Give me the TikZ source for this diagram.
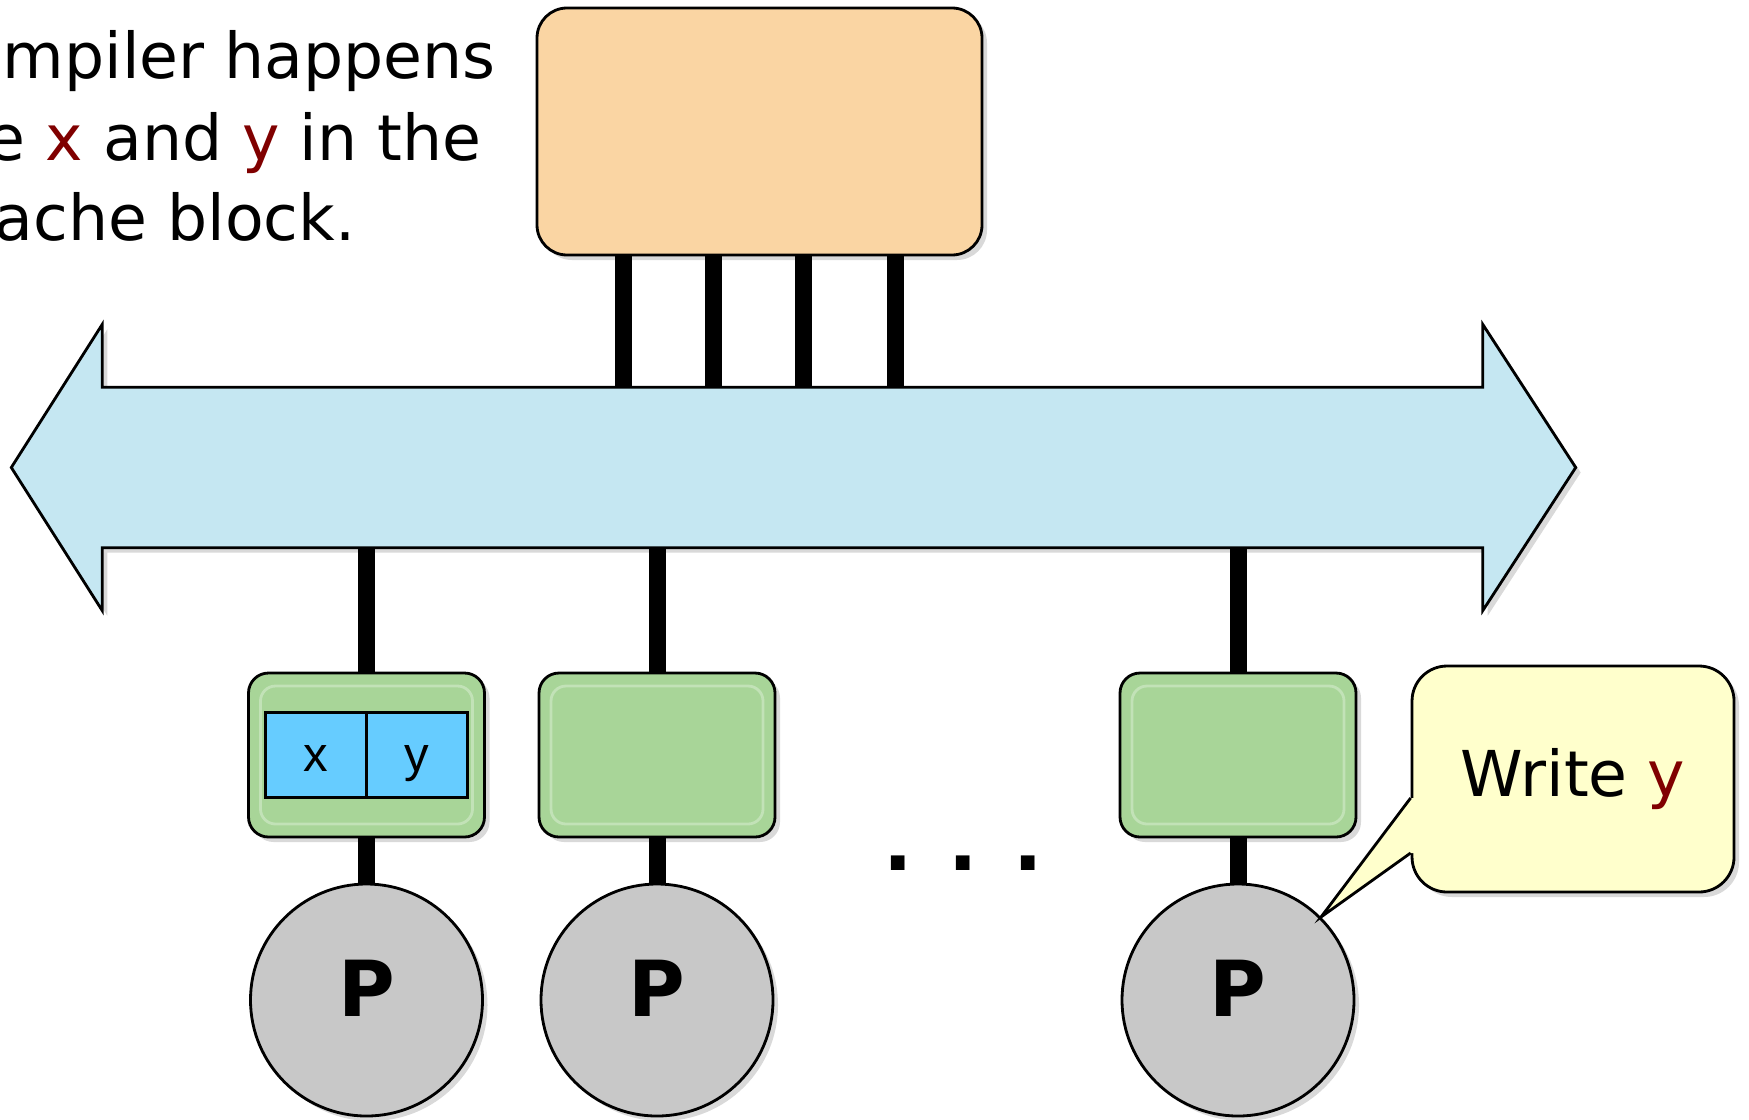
\documentclass[tikz,border=0pt]{standalone}
\usepackage{fontspec}
\setmainfont{DejaVu Sans}
\newfontfamily\cellfont{Liberation Sans}
\usetikzlibrary{positioning,shadows}

\definecolor{memfill}{RGB}{250,213,163}
\definecolor{busfill}{RGB}{197,231,242}
\definecolor{cachefill}{RGB}{168,213,152}
\definecolor{cellfill}{RGB}{102,204,255}
\definecolor{procfill}{RGB}{200,200,200}
\definecolor{notefill}{RGB}{255,255,204}
\definecolor{xred}{RGB}{128,0,0}

\begin{document}
\begin{tikzpicture}
  [x=0.1mm,y=-0.1mm,every node/.style={inner sep=0pt},
   panel/.style={draw,line width=0.8pt,rounded corners=2mm,
     drop shadow={opacity=0.3,shadow xshift=0.5mm,shadow yshift=-0.5mm}},
   membox/.style={panel,fill=memfill,rounded corners=3mm,minimum width=44.5mm,minimum height=24.7mm},
   busarrow/.style={draw,line width=0.8pt,fill=busfill,
     drop shadow={opacity=0.3,shadow xshift=0.5mm,shadow yshift=-0.5mm}},
   cache/.style={panel,fill=cachefill,minimum width=23.6mm,minimum height=16.4mm},
   cacherim/.style={draw=cachefill!70!white,line width=0.8pt,rounded corners=1.5mm,minimum width=21.2mm,minimum height=13.8mm},
   cell/.style={draw,line width=0.8pt,outer sep=0pt,fill=cellfill,minimum width=10.1mm,minimum height=8.5mm,
     text height=12pt,text depth=2.4pt,font=\cellfont\fontsize{14}{14}\selectfont},
   proc/.style={circle,panel,fill=procfill,minimum size=23.2mm,text height=16pt,text depth=6.4pt,
     font=\bfseries\fontsize{22}{22}\selectfont},
   note/.style={panel,fill=notefill,rounded corners=3.5mm,minimum width=32.2mm,minimum height=22.6mm,
     font=\fontsize{18}{18}\selectfont},
   txt/.style={anchor=base west,font=\fontsize{18}{23}\selectfont},
   leg/.style={line width=1.7mm}]
  \useasboundingbox (0,0) rectangle (1749,1119);

  \node[txt] (t1) at (2,78) {mpiler happens};
  \node[txt] (t2) at (-14,160) {e {\color{xred}x} and {\color{xred}y} in the};
  \node[txt] (t3) at (-6,240) {ache block.};

  \node[membox] (mem) at (759.5,131.5) {};

  \node[minimum width=137.9mm,minimum height=15.9mm] (bus) at (792.5,467.5) {};
  \draw[busarrow] (bus.north west) -- ([yshift=6.3mm]bus.north west) -- ([xshift=-9.1mm]bus.west)
    -- ([yshift=-6.3mm]bus.south west) -- (bus.south west) -- (bus.south east)
    -- ([yshift=-6.3mm]bus.south east) -- ([xshift=9.3mm]bus.east)
    -- ([yshift=6.3mm]bus.north east) -- (bus.north east) -- cycle;

  \node[cache] (c1) at (366.5,755) {};
  \node[cache] (c2) at (657,755) {};
  \node[cache] (c3) at (1238,755) {};
  \foreach \c in {c1,c2,c3}
    \node[cacherim] at (\c) {};

  \node[cell] (cx) at (316,755) {x};
  \node[cell,right=0pt of cx] (cy) {y};

  \node[proc] (p1) at (366.5,1000) {P};
  \node[proc] (p2) at (657,1000) {P};
  \node[proc] (p3) at (1238,1000) {P};

  \node[font=\bfseries\fontsize{22}{22}\selectfont] (dots) at (963,863) {. . .};

  \foreach \dx in {-136,-46,44,136}
    \draw[leg] ([xshift=\dx*0.1mm]mem.south) -- ([xshift=\dx*0.1mm]mem.south |- bus.north);
  \foreach \c in {c1,c2,c3}
    \draw[leg] (\c.north) -- (\c.north |- bus.south);
  \foreach \from/\to in {c1/p1,c2/p2,c3/p3}
    \draw[leg] (\from.south) -- (\to.north);

  \node[note] (note) at (1573,779) {Write {\color{xred}y}};
  \coordinate (tip) at (p3.north east);
  \fill[notefill] ([xshift=1mm,yshift=-1.9mm]note.west) -- ([yshift=-1.9mm]note.west) -- (tip)
    -- ([yshift=-7.4mm]note.west) -- ([xshift=1mm,yshift=-7.4mm]note.west) -- cycle;
  \draw[line width=0.8pt] ([yshift=-1.9mm]note.west) -- (tip) -- ([yshift=-7.4mm]note.west);

\end{tikzpicture}
\end{document}
